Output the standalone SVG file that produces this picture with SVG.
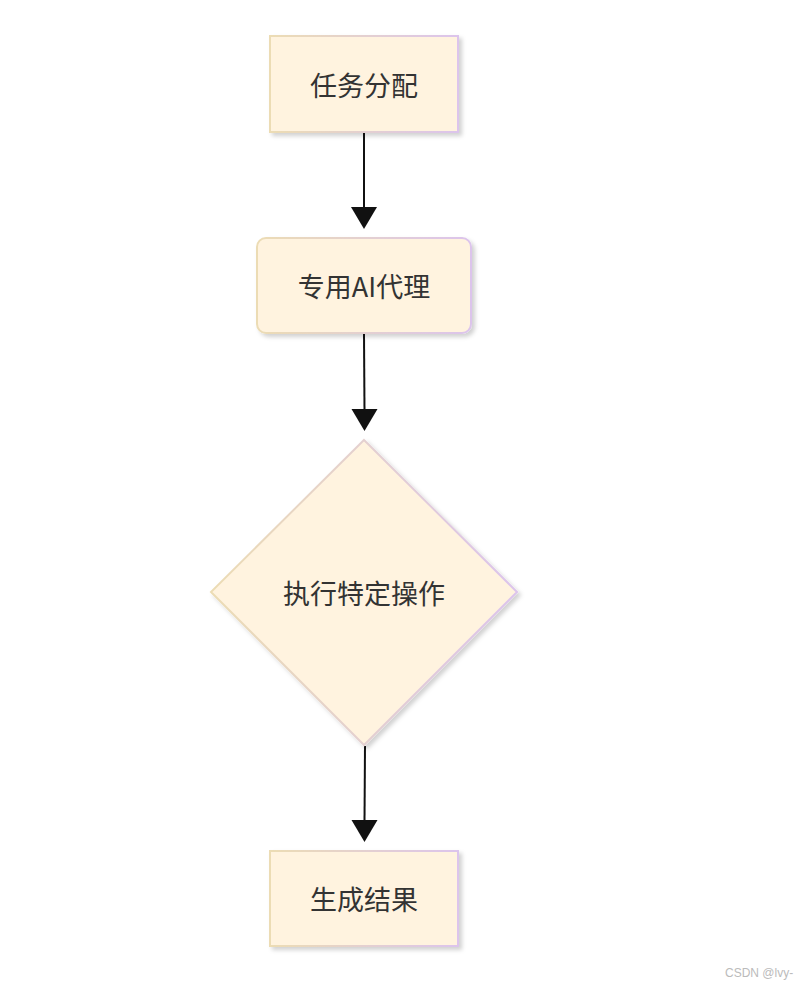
<svg xmlns="http://www.w3.org/2000/svg" width="812" height="988" viewBox="0 0 812 988">
<defs>
<linearGradient id="bd" x1="0" y1="0" x2="1" y2="0"><stop offset="0" stop-color="#ecdcb4"/><stop offset="1" stop-color="#dcc4ec"/></linearGradient>
<filter id="sh" x="-20%" y="-20%" width="140%" height="140%"><feDropShadow dx="3" dy="3" stdDeviation="2" flood-color="#000" flood-opacity="0.18"/></filter>
<marker id="ah" markerWidth="26" markerHeight="22" refX="13" refY="21" orient="auto" markerUnits="userSpaceOnUse" viewBox="0 0 26 22"><path d="M0,0 L26,0 L13,22 Z" fill="#111" transform="rotate(0)"/></marker>
</defs>
<style>
.n{fill:#fff3df;stroke:url(#bd);stroke-width:2;filter:url(#sh)}
.t{font-family:"Noto Sans CJK SC","Liberation Sans",sans-serif;font-size:27px;fill:#333;text-anchor:middle;dominant-baseline:central}
.e{stroke:#111;stroke-width:2;fill:none}
</style>
<rect width="812" height="988" fill="#fff"/>
<g id="edges">
<line class="e" x1="364" y1="133" x2="364" y2="209"/><path d="M351,207 L377,207 L364,229 Z" fill="#111"/>
<line class="e" x1="364" y1="334" x2="364.5" y2="411"/><path d="M351.5,409 L377.5,409 L364.5,431 Z" fill="#111"/>
<line class="e" x1="365" y1="746" x2="364.5" y2="822"/><path d="M351.5,820 L377.5,820 L364.5,842 Z" fill="#111"/>
</g>
<g id="n1"><rect class="n" x="270" y="36" width="188" height="96"/><text class="t" x="364" y="84">任务分配</text></g>
<g id="n2"><rect class="n" x="257" y="238" width="214" height="95" rx="9"/><text class="t" x="364" y="285">专用AI代理</text></g>
<g id="n3"><polygon class="n" points="364,440 517,592 364,745 211,592"/><text class="t" x="364" y="592">执行特定操作</text></g>
<g id="n4"><rect class="n" x="270" y="851" width="188" height="95"/><text class="t" x="364" y="898">生成结果</text></g>
<text x="725" y="977" font-family="Liberation Sans,sans-serif" font-size="12" fill="#bbb">CSDN @lvy-</text>
</svg>
